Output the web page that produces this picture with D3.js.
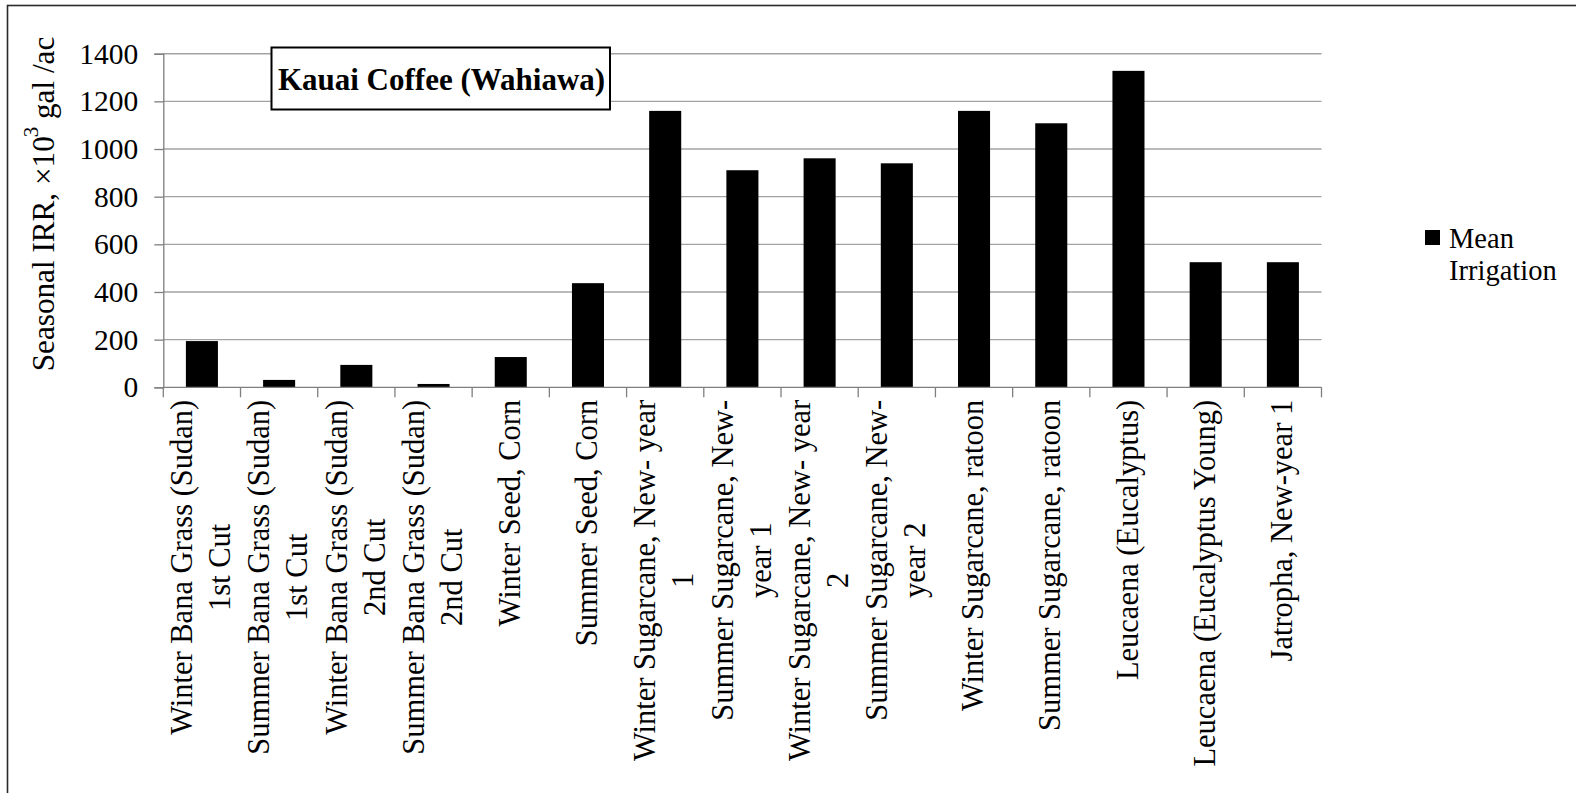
<!DOCTYPE html>
<html>
<head>
<meta charset="utf-8">
<script src="https://cdn.jsdelivr.net/npm/d3@7"></script>
<style>
  html, body { margin: 0; padding: 0; background: #fff; }
  svg { display: block; font-family: "Liberation Serif", "Times New Roman", serif; }
</style>
</head>
<body>
<svg id="chart" width="1576" height="793"></svg>
<script>
// ---- data ----
const categories = [
  "Winter Bana Grass (Sudan)|1st Cut",
  "Summer Bana Grass (Sudan)|1st Cut",
  "Winter Bana Grass (Sudan)|2nd Cut",
  "Summer Bana Grass (Sudan)|2nd Cut",
  "Winter Seed, Corn",
  "Summer Seed, Corn",
  "Winter Sugarcane, New- year|1",
  "Summer Sugarcane, New-|year 1",
  "Winter Sugarcane, New- year|2",
  "Summer Sugarcane, New-|year 2",
  "Winter Sugarcane, ratoon",
  "Summer Sugarcane, ratoon",
  "Leucaena (Eucalyptus)",
  "Leucaena (Eucalyptus Young)",
  "Jatropha, New-year 1"
];
const meanIrrigation = [194, 31, 94, 14, 127, 437, 1160, 911, 961, 940, 1160, 1108, 1328, 525, 525];
const yTicks = [0, 200, 400, 600, 800, 1000, 1200, 1400];
const seriesName = ["Mean", "Irrigation"];
const chartTitle = "Kauai Coffee (Wahiawa)";

// ---- layout ----
const svg = d3.select("#chart");
const pLeft = 163.3, pRight = 1321.5, pTop = 53.7, pBottom = 387.3;

// outer frame (right/bottom edges fall outside the picture)
svg.append("rect")
  .attr("x", 7.5).attr("y", 5.5).attr("width", 1640).attr("height", 840)
  .attr("fill", "none").attr("stroke", "#2a2a2a").attr("stroke-width", 1.6);

const x = d3.scaleBand().domain(categories).range([pLeft, pRight])
  .paddingInner(0.585).paddingOuter(0.2925);
const y = d3.scaleLinear().domain([0, 1400]).range([pBottom, pTop]);
const step = x.step();

// gridlines
svg.append("g").selectAll("line").data(yTicks.filter(d => d > 0)).join("line")
  .attr("x1", pLeft).attr("x2", pRight)
  .attr("y1", d => y(d)).attr("y2", d => y(d))
  .attr("stroke", "#a3a3a3").attr("stroke-width", 1.4);

// y axis
const yAxis = d3.axisLeft(y).tickValues(yTicks).tickSize(9).tickPadding(16).tickFormat(d3.format("d"));
const gy = svg.append("g").attr("transform", `translate(${pLeft},0)`).call(yAxis);
gy.select(".domain").attr("stroke", "#7f7f7f").attr("stroke-width", 1.3);
gy.selectAll(".tick line").attr("stroke", "#7f7f7f").attr("stroke-width", 1.3);
gy.selectAll(".tick text").attr("font-size", 29.5).attr("fill", "#000")
  .attr("font-family", "Liberation Serif, Times New Roman, serif");

// bars
svg.append("g").selectAll("rect").data(categories).join("rect")
  .attr("x", d => x(d)).attr("width", x.bandwidth())
  .attr("y", (d, i) => y(meanIrrigation[i]))
  .attr("height", (d, i) => y(0) - y(meanIrrigation[i]))
  .attr("fill", "#000");

// x axis line + ticks at category boundaries
svg.append("line").attr("x1", pLeft).attr("x2", pRight).attr("y1", y(0)).attr("y2", y(0))
  .attr("stroke", "#7f7f7f").attr("stroke-width", 1.3);
const bounds = d3.range(categories.length + 1);
svg.append("g").selectAll("line").data(bounds).join("line")
  .attr("x1", i => pLeft + i * step).attr("x2", i => pLeft + i * step)
  .attr("y1", y(0)).attr("y2", y(0) + 10)
  .attr("stroke", "#7f7f7f").attr("stroke-width", 1.3);

// x category labels (rotated, multi-line, centred block)
const labelFont = 30.5, lineH = 38, gap = 12.5;
const gx = svg.append("g");
categories.forEach(c => {
  const lines = c.split("|");
  const cx = x(c) + x.bandwidth() / 2 - 1.5;
  const g = gx.append("g");
  const texts = lines.map((ln, j) => g.append("text").text(ln)
    .attr("font-size", labelFont).attr("fill", "#000").attr("text-anchor", "middle"));
  const maxW = d3.max(texts, t => t.node().getComputedTextLength());
  const cy = y(0) + gap + maxW / 2;
  texts.forEach((t, j) => {
    const lx = cx + (j - (lines.length - 1) / 2) * lineH;
    t.attr("transform", `translate(${lx},${cy}) rotate(-90)`).attr("dy", "0.35em");
  });
});

// y axis title
const yt = svg.append("text")
  .attr("transform", "translate(43,204) rotate(-90)")
  .attr("text-anchor", "middle").attr("dy", "0.35em")
  .attr("font-size", 31.2).attr("fill", "#000");
yt.append("tspan").text("Seasonal IRR, \u00d710");
yt.append("tspan").text("3").attr("font-size", 21).attr("dy", "-0.75em").attr("dx", "-1");
yt.append("tspan").text(" gal /ac").attr("dy", "0.5em");

// title box
const tb = svg.append("g");
tb.append("rect").attr("x", 271.5).attr("y", 47.5).attr("width", 338.5).attr("height", 62)
  .attr("fill", "#fff").attr("stroke", "#000").attr("stroke-width", 2);
tb.append("text").text(chartTitle)
  .attr("x", 441.5).attr("y", 79).attr("dy", "0.35em").attr("text-anchor", "middle")
  .attr("font-size", 31).attr("font-weight", "bold").attr("fill", "#000");

// legend
const lg = svg.append("g");
lg.append("rect").attr("x", 1425).attr("y", 230).attr("width", 15).attr("height", 15).attr("fill", "#000");
lg.selectAll("text").data(seriesName).join("text")
  .attr("x", 1449).attr("y", (d, i) => 248 + i * 32)
  .attr("font-size", 28.5).attr("fill", "#000").text(d => d);
</script>
</body>
</html>
